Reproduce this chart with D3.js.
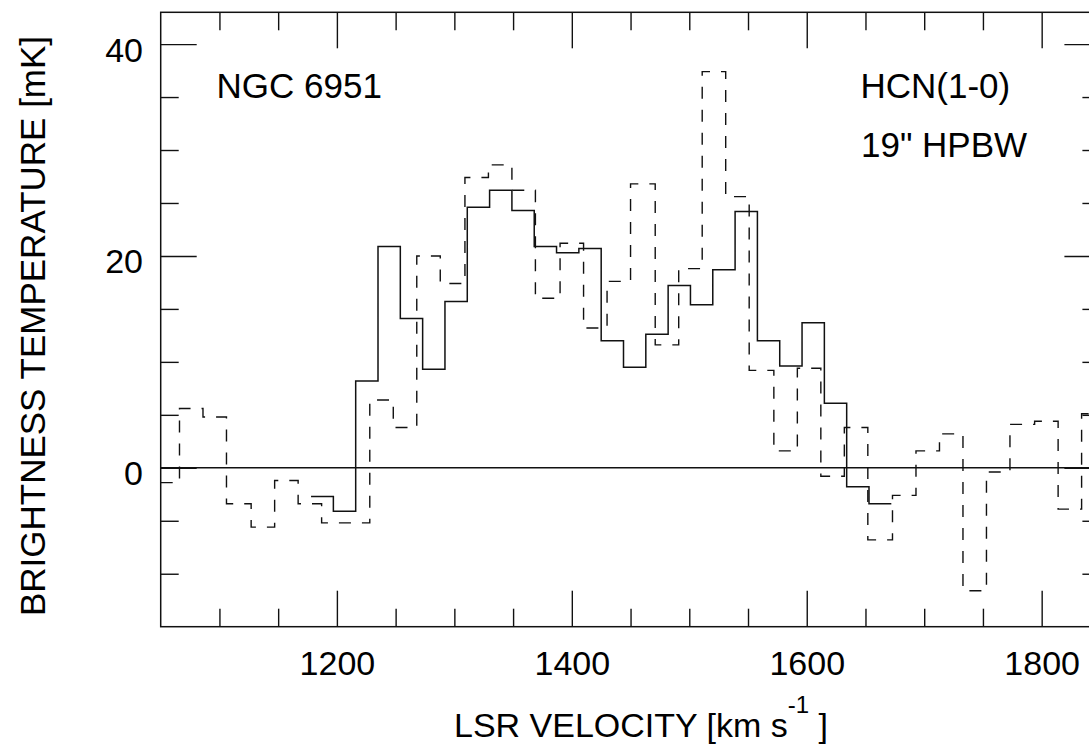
<!DOCTYPE html>
<html>
<head>
<meta charset="utf-8">
<script src="https://cdn.jsdelivr.net/npm/d3@7"></script>
<style>
  body { margin: 0; background: #fff; }
  svg { display: block; }
  text { font-family: "Liberation Sans", Arial, Helvetica, sans-serif; fill: #000; }
</style>
</head>
<body>
<svg id="chart" width="1089" height="745"></svg>
<script>
// ---- data ----
// solid spectrum: channel edges (km/s) and brightness temperatures (mK)
const solidEdges = [1178,1197,1216,1235,1254,1273,1292,1311,1330,1349,1368,1387,1406,1425,1444,1463,1482,1501,1520,1539,1558,1577,1596,1615,1634,1653,1672];
const solidValues = [-2.7,-4.1,8.2,20.9,14.1,9.3,15.7,24.6,26.2,24.3,20.9,20.3,20.7,12.0,9.5,12.6,17.2,15.4,18.7,24.2,12.0,9.6,13.7,6.1,-1.8,-3.4];
// dashed spectrum
const dashedEdges = [1050,1066,1086,1106,1127,1147,1167,1187,1207,1228,1248,1268,1288,1309,1329,1349,1369,1390,1410,1430,1450,1471,1491,1511,1531,1551,1572,1592,1612,1632,1652,1673,1693,1713,1733,1753,1773,1794,1814,1834,1850];
const dashedValues = [-1.4,5.6,4.8,-3.4,-5.6,-1.2,-3.4,-5.2,-5.2,6.4,3.8,20.0,17.4,27.4,28.6,26.2,16.0,21.2,13.2,17.6,26.8,11.6,18.8,37.4,25.6,9.2,1.6,9.4,-0.8,3.8,-6.8,-2.6,1.6,3.2,-11.6,-0.4,4.1,4.4,-3.9,5.1];
// axes
const xDomain = [1050, 1850];
const yDomain = [-15, 43];
const xMajorTicks = [1200, 1400, 1600, 1800];
const xMinorTicks = [1100, 1150, 1250, 1300, 1350, 1450, 1500, 1550, 1650, 1700, 1750];
const yMajorTicks = [0, 20, 40];
const yMinorTicks = [-10, -5, 5, 10, 15, 25, 30, 35];
// texts
const xTitle = ["LSR VELOCITY [km s", "-1", " ]"];
const yTitle = "BRIGHTNESS TEMPERATURE [mK]";
const galaxyLabel = "NGC 6951";
const lineLabel = "HCN(1-0)";
const beamLabel = "19\" HPBW";

// ---- drawing ----
const svg = d3.select("#chart");
const L = 160.7, R = 1100.4, T = 12.3, B = 626.7;
const x = d3.scaleLinear().domain(xDomain).range([L, R]);
const y = d3.scaleLinear().domain(yDomain).range([B, T]);
const ink = "#111";
const fontTick = 34, fontText = 35;

// zero line
svg.append("line")
  .attr("x1", x(xDomain[0])).attr("x2", x(xDomain[1]))
  .attr("y1", y(0)).attr("y2", y(0))
  .attr("stroke", ink).attr("stroke-width", 1.4);

function steps(edges, values) {
  const pts = [];
  values.forEach((v, i) => { pts.push([edges[i], v]); pts.push([edges[i + 1], v]); });
  return pts;
}
const line = d3.line().x(d => x(d[0])).y(d => y(d[1]));

svg.append("path")
  .attr("d", line(steps(dashedEdges, dashedValues)))
  .attr("fill", "none").attr("stroke", ink).attr("stroke-width", 1.4)
  .attr("stroke-dasharray", "12,11");

svg.append("path")
  .attr("d", line(steps(solidEdges, solidValues)))
  .attr("fill", "none").attr("stroke", ink).attr("stroke-width", 1.5);

// axes (ticks inward on all four sides)
function styleAxis(g) {
  g.select(".domain").remove();
  g.attr("color", ink).attr("font-family", "Liberation Sans, Arial, sans-serif").attr("font-size", fontTick);
  g.selectAll(".tick line").attr("stroke-width", 1.4);
}
// bottom
svg.append("g").attr("transform", `translate(0,${B})`)
  .call(d3.axisBottom(x).tickValues(xMinorTicks).tickSize(-18).tickSizeOuter(0).tickFormat(""))
  .call(styleAxis);
const bx = svg.append("g").attr("transform", `translate(0,${B})`)
  .call(d3.axisBottom(x).tickValues(xMajorTicks).tickSize(-36).tickSizeOuter(0).tickFormat(d3.format("d")))
  .call(styleAxis);
bx.selectAll(".tick text").attr("y", 675 - B).attr("dy", null).attr("fill", "#000");
// top
svg.append("g").attr("transform", `translate(0,${T})`)
  .call(d3.axisTop(x).tickValues(xMinorTicks).tickSize(-18).tickSizeOuter(0).tickFormat(""))
  .call(styleAxis);
svg.append("g").attr("transform", `translate(0,${T})`)
  .call(d3.axisTop(x).tickValues(xMajorTicks).tickSize(-36).tickSizeOuter(0).tickFormat(""))
  .call(styleAxis);
// left
svg.append("g").attr("transform", `translate(${L},0)`)
  .call(d3.axisLeft(y).tickValues(yMinorTicks).tickSize(-18).tickSizeOuter(0).tickFormat(""))
  .call(styleAxis);
const ly = svg.append("g").attr("transform", `translate(${L},0)`)
  .call(d3.axisLeft(y).tickValues(yMajorTicks).tickSize(-36).tickSizeOuter(0).tickFormat(d3.format("d")))
  .call(styleAxis);
ly.selectAll(".tick text").attr("x", 143 - L).attr("y", 17).attr("dy", null).attr("fill", "#000");
// right
svg.append("g").attr("transform", `translate(${R},0)`)
  .call(d3.axisRight(y).tickValues(yMinorTicks).tickSize(-18).tickSizeOuter(0).tickFormat(""))
  .call(styleAxis);
svg.append("g").attr("transform", `translate(${R},0)`)
  .call(d3.axisRight(y).tickValues(yMajorTicks).tickSize(-36).tickSizeOuter(0).tickFormat(""))
  .call(styleAxis);

// frame
svg.append("rect")
  .attr("x", L).attr("y", T).attr("width", R - L).attr("height", B - T)
  .attr("fill", "none").attr("stroke", ink).attr("stroke-width", 1.5);

// titles
const xt = svg.append("text").attr("x", 454).attr("y", 737).attr("font-size", 34);
xt.append("tspan").text(xTitle[0]);
xt.append("tspan").attr("font-size", 24).attr("dy", -24).text(xTitle[1]);
xt.append("tspan").attr("dy", 24).text(xTitle[2]);

svg.append("text")
  .attr("transform", "translate(45,326) rotate(-90)")
  .attr("text-anchor", "middle").attr("font-size", fontText)
  .text(yTitle);

// annotations
svg.append("text").attr("x", 216.5).attr("y", 98.3).attr("font-size", fontText).text(galaxyLabel);
svg.append("text").attr("x", 860.5).attr("y", 98.3).attr("font-size", fontText).text(lineLabel);
svg.append("text").attr("x", 861).attr("y", 156.7).attr("font-size", fontText).text(beamLabel);
</script>
</body>
</html>
